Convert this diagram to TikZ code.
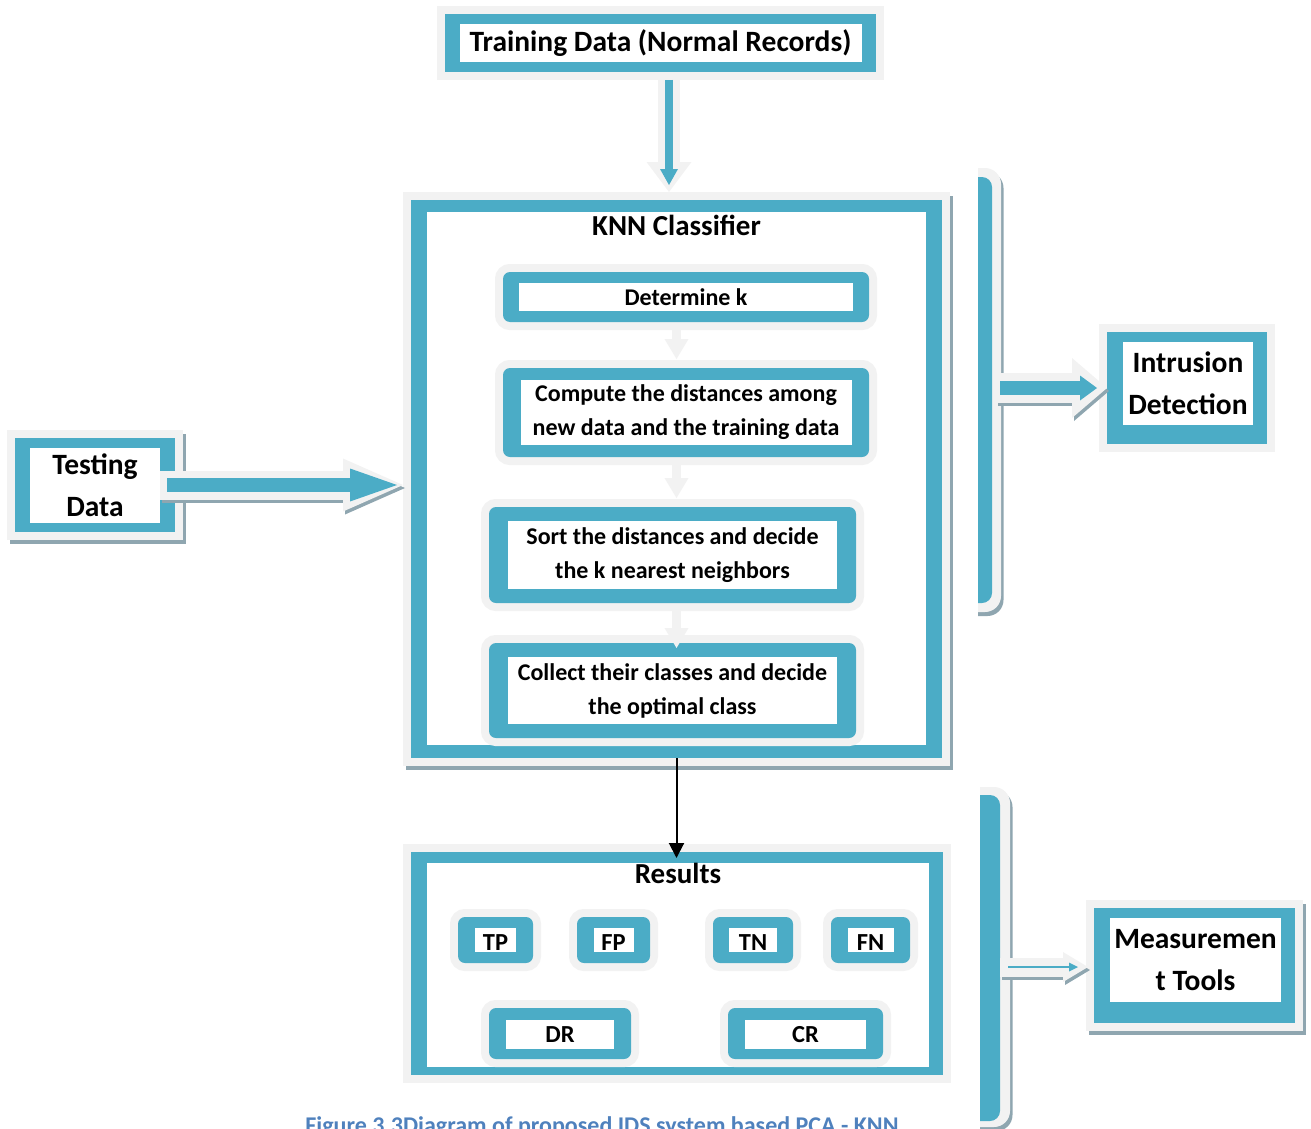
\documentclass[tikz,border=0pt]{standalone}
\usepackage{fontspec}
\setmainfont{Carlito}
\usetikzlibrary{positioning,arrows.meta,calc}
\definecolor{tealc}{RGB}{75,172,198}
\definecolor{halogray}{RGB}{242,242,242}
\definecolor{shadowc}{RGB}{143,166,176}
\definecolor{capblue}{RGB}{79,129,189}
\tikzset{
	>={Triangle[width=15pt,length=15pt]},
	halo/.style={preaction={draw=halogray, line width=16pt}},
	dropped/.style={preaction={draw=shadowc, line width=16pt,
			transform canvas={shift={(2.5pt,-4pt)}}}},
	panel/.style={rectangle, fill=tealc, inner sep=0pt, outer sep=0pt},
	card/.style={panel, rounded corners=7pt},
	whitebox/.style={rectangle, fill=white, inner sep=0pt, outer sep=0pt, align=center},
	bigtext/.style={font=\bfseries\fontsize{29.5}{41.5}\selectfont},
	midtext/.style={font=\bfseries\fontsize{24}{34}\selectfont},
	smalltext/.style={font=\bfseries\fontsize{24.5}{28}\selectfont},
	titletext/.style={font=\bfseries\fontsize{29}{32}\selectfont, inner sep=0pt},
	link/.style={draw=halogray, line width=9pt,
			-{Triangle[width=24pt,length=20pt,line width=0pt]}},
	garrow/.style n args={3}{preaction={draw=halogray, line width=#1,
			-{Triangle[width=#2,length=#3,line width=0pt]}, shorten <=0pt, shorten >=0pt}},
	sarrow/.style n args={3}{preaction={draw=shadowc, line width=#1,
			-{Triangle[width=#2,length=#3,line width=0pt]}, shorten <=0pt, shorten >=0pt,
			transform canvas={shift={(2pt,-3pt)}}}},
	tarrow/.style n args={3}{draw=tealc, line width=#1,
			-{Triangle[width=#2,length=#3,line width=0pt]}},
}
\begin{document}
\begin{tikzpicture}[x=1pt, y=-1pt]
	\useasboundingbox (0,0) rectangle (1311,1129);
	\clip (0,0) rectangle (1311,1129);

	% brackets on the right
	\begin{scope}
		\clip (978,150) rectangle (1030,640);
		\fill[shadowc, rounded corners=16pt] (942,172) rectangle (1003.5,616);
		\fill[halogray, rounded corners=16pt] (940,168) rectangle (1001,612);
		\fill[tealc, rounded corners=10pt] (940,177) rectangle (992,603);
	\end{scope}
	\begin{scope}
		\clip (980,770) rectangle (1040,1129);
		\fill[shadowc, rounded corners=16pt] (942,791) rectangle (1012.5,1131);
		\fill[halogray, rounded corners=16pt] (940,787) rectangle (1010,1127);
		\fill[tealc, rounded corners=10pt] (940,795) rectangle (1000,1121);
	\end{scope}

	% input boxes
	\node[panel, halo, minimum width=431pt, minimum height=58pt] (train) at (660.5,43) {};
	\node[whitebox, bigtext, minimum width=402pt, minimum height=38pt] (trainl) at (train) {Training Data (Normal Records)};

	\node[panel, dropped, halo, minimum width=160pt, minimum height=94pt] (test) at (95,485) {};
	\node[whitebox, bigtext, minimum width=130pt, minimum height=75pt] (testl) at (test) {Testing\\Data};

	% classifier
	\node[panel, dropped, halo, minimum width=531pt, minimum height=558pt] (knn) at (676.5,479) {};
	\node[whitebox, minimum width=499pt, minimum height=533pt] (knnw) at (676.5,478.5) {};
	\node[titletext, below=3pt of knnw.north] (knnt) {KNN Classifier};

	\node[card, halo, minimum width=366pt, minimum height=50pt] (s1) at (686,297) {};
	\node[whitebox, midtext, minimum width=334pt, minimum height=28pt] (s1l) at (s1) {Determine k};
	\node[card, halo, minimum width=366pt, minimum height=89pt] (s2) at (686,412.5) {};
	\node[whitebox, midtext, minimum width=331pt, minimum height=65pt] (s2l) at (s2) {Compute the distances among\\new data and the training data};
	\node[card, halo, minimum width=367pt, minimum height=96pt] (s3) at (672.5,555) {};
	\node[whitebox, midtext, minimum width=329pt, minimum height=68pt] (s3l) at (s3) {Sort the distances and decide\\the k nearest neighbors};
	\node[card, halo, minimum width=367pt, minimum height=95pt] (s4) at (672.5,690.5) {};
	\node[whitebox, midtext, minimum width=329pt, minimum height=67pt] (s4l) at (s4) {Collect their classes and decide\\the optimal class};

	\foreach \a/\b/\d in {s1/s2/9, s2/s3/9, s3/s4/-5}
		\draw[link] ([yshift=-8pt]knn.center |- \a.south) -- ([yshift=\d pt]knn.center |- \b.north);

	% outputs
	\node[panel, halo, minimum width=160pt, minimum height=112pt] (intr) at (1187,388) {};
	\node[whitebox, bigtext, minimum width=130pt, minimum height=83pt] (intrl) at (1188,383.5) {Intrusion\\Detection};

	\node[panel, dropped, halo, minimum width=201pt, minimum height=115pt] (meas) at (1194.5,965.5) {};
	\node[whitebox, bigtext, minimum width=171pt, minimum height=84pt] (measl) at (1195.5,960) {Measuremen\\t Tools};

	% results
	\node[panel, halo, minimum width=532pt, minimum height=223pt] (res) at (677,963.5) {};
	\node[whitebox, minimum width=502pt, minimum height=204pt] (resw) at (678,965) {};
	\node[titletext, below=0pt of resw.north] (rest) {Results};

	\foreach \n/\t/\x/\w/\iw in {tp/TP/495.5/75/41, fp/FP/613.5/73/40, tn/TN/753/80/48, fn/FN/870.5/79/46}{
		\node[card, halo, minimum width=\w pt, minimum height=46pt] (\n) at (\x,940) {};
		\node[whitebox, smalltext, text height=21pt, text depth=0pt,
			minimum width=\iw pt, minimum height=24pt] (\n l) at (\n) {\t};
	}
	\node[card, halo, minimum width=142pt, minimum height=51pt] (dr) at (560,1033.5) {};
	\node[whitebox, smalltext, minimum width=108pt, minimum height=29pt] (drl) at (560,1034.5) {DR};
	\node[card, halo, minimum width=155pt, minimum height=51pt] (cr) at (805.5,1033.5) {};
	\node[whitebox, smalltext, minimum width=121pt, minimum height=29pt] (crl) at (805.5,1034.5) {CR};

	% arrows
	\draw[garrow={22pt}{45pt}{30pt}, tarrow={7.5pt}{18pt}{16pt}, shorten >=7pt]
		([xshift=8.5pt,yshift=-8pt]train.south) -- ([xshift=8.5pt,yshift=8pt]train.south |- knn.north);
	\draw[sarrow={29pt}{53pt}{60pt}, garrow={29pt}{53pt}{60pt}, tarrow={14pt}{33pt}{47pt},
		shorten <=7pt, shorten >=6pt]
		([xshift=-15pt]test.east) -- ([xshift=-8pt]test.east -| knn.west);
	\draw[->, line width=2pt] (knn.south) -- ([yshift=-6pt]knn.south |- res.north);

	\coordinate (b1) at (996,388);
	\coordinate (b2) at (1000,967);
	\draw[sarrow={30pt}{60pt}{35pt}, garrow={30pt}{60pt}{35pt}, tarrow={14pt}{25pt}{17pt},
		shorten <=4pt, shorten >=10pt] (b1) -- (intr.west);
	\draw[sarrow={19pt}{30pt}{25pt}, garrow={19pt}{30pt}{25pt}, tarrow={2pt}{9pt}{9pt},
		shorten <=8pt, shorten >=10pt] (b2) -- ([xshift=-6pt]b2 -| meas.west);

	% caption, cut by the page edge
	\node[font=\bfseries\fontsize{24}{28}\selectfont, text=capblue, anchor=base] (cap) at (602,1133)
		{Figure 3.3Diagram of proposed IDS system based PCA - KNN};
\end{tikzpicture}
\end{document}
